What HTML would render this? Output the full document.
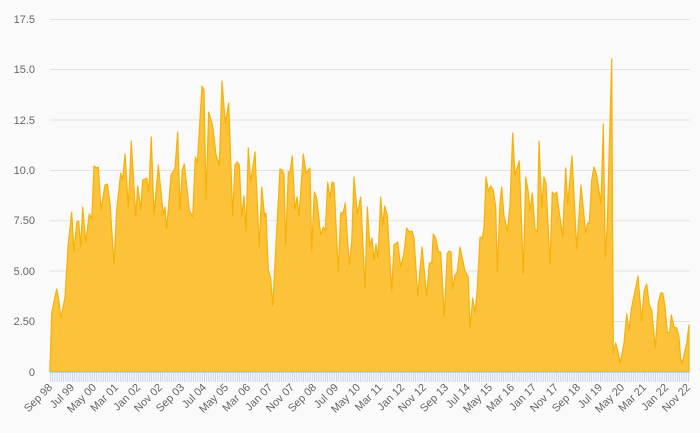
<!DOCTYPE html>
<html><head><meta charset="utf-8"><style>
html,body{margin:0;padding:0;background:#fafafa;}
svg{display:block;font-family:"Liberation Sans",sans-serif;}
</style></head><body>
<svg width="700" height="433" viewBox="0 0 700 433" xmlns="http://www.w3.org/2000/svg">
<rect width="700" height="433" fill="#fafafa"/>
<g stroke="#e3e3e3" stroke-width="1">
<line x1="50" x2="690" y1="19.5" y2="19.5"/>
<line x1="50" x2="690" y1="69.5" y2="69.5"/>
<line x1="50" x2="690" y1="120" y2="120"/>
<line x1="50" x2="690" y1="170.5" y2="170.5"/>
<line x1="50" x2="690" y1="220.7" y2="220.7"/>
<line x1="50" x2="690" y1="271" y2="271"/>
<line x1="50" x2="690" y1="321.5" y2="321.5"/>
</g>
<g fill="#666" font-size="11" text-anchor="end">
<text x="35" y="23">17.5</text>
<text x="35" y="73">15.0</text>
<text x="35" y="124">12.5</text>
<text x="35" y="174">10.0</text>
<text x="35" y="224">7.50</text>
<text x="35" y="275">5.00</text>
<text x="35" y="325">2.50</text>
<text x="35" y="376">0</text>
</g>
<path fill="#fbbf2f" fill-opacity="0.95" stroke="#f6b10a" stroke-width="1.2" stroke-linejoin="round" d="M50,372 L50,367 51.7,313 56.7,289 58,295 61,318 65,297 68,247 71.7,212 74,252 76.7,222 78.7,221 80.7,247 82.7,207 85.7,242 89.3,214 91.7,219 94,166 96.7,168 98.3,167 101,210 105,185 107.3,184 110,203 114,264 116.7,210 120.7,173 122.7,180 125,154 128.3,207 131.3,141 135.7,216 137.7,186 140.7,210 142.7,180 146.7,178 148.7,192 151.3,137 154,215 158.3,165 163.3,215 165,207 166.7,229 171,175 175,168 177.7,132 180,210 182.3,170 184.3,164 189.3,210 192.7,217 195.3,157 197.3,163 202,86 204,90 206,199 208.7,112 212.7,126 216,155 219.3,165 222,81 225.3,123 228.7,103 232.7,216 235,165 237.3,162 239.3,165 241.7,217 244,196 246,231 248.3,148 250.7,182 255,152 259.3,247 261.7,187 264.7,217 266,213 268.3,270 270.7,278 272.7,306 280,169 282.3,170 284,175 285.7,245 288.3,172 290,172 292.3,156 295,210 297,197 299,216 303.3,154 306,173 310,168 311.7,251 314.3,192 316.7,198 320.7,235 323.3,227 325.3,231 327.7,182 330,198 332,182 334,183 338.3,272 340.7,213 343.3,212 345.3,203 347.3,237 349.3,265 351.7,242 354,177 357.3,214 360.7,197 365,288 367.3,207 370,247 372,238 374,260 376,244 378,258 380.7,197 382.7,226 384.7,206 387.3,215 391.7,291 394,245 397.7,242 400.7,267 404,253 406.7,228 409.3,232 412,231 414,238 417.7,296 422,247 426.7,296 429.3,263 431.7,263 433.3,234 435.7,238 438.3,251 440.7,252 444.3,316 447.3,253 449.3,251 451,252 452.7,289 455,275 457.3,272 460,247 465,271 468.3,277 470,328 472.7,298 475,313 477.3,288 480,237 482.3,238 484,228 486,177 488.3,191 490.7,186 493.3,190 495.7,207 497.3,272 500,203 501.7,187 504,216 507.3,231 510,205 512.7,133 515,175 519.3,161 523.3,274 525.7,177 528.3,192 530,211 532.3,193 535,229 537.3,232 539,141 541.7,207 544,177 546,183 550,264 552.3,192 554.3,195 556.7,192 559.3,213 562.7,236 565.7,168 567.7,204 572,156 576.7,249 581,185 585.7,233 587.7,223 589.3,223 591.7,180 594,167 596.7,175 601,204 603.3,124 605.3,257 607.3,223 610,123 611.7,59 613.3,353 615.7,343 618,352 620.3,363 624,343 626.7,314 629,330 631.3,309 638,276 641.7,321 644,292 646.7,284 649.3,305 651.7,310 655.3,348 658.3,303 660.7,293 662.7,293 665,306 667.3,333 669.7,332 671.3,315 674,327 676.7,328 679,337 680.7,359 682.3,363 686.7,343 689,325 L689,372 Z"/>
<defs><pattern id="tk" x="50" y="0" width="2.2" height="10" patternUnits="userSpaceOnUse"><rect width="0.9" height="10" fill="#c4d1ea"/></pattern></defs>
<rect x="50" y="372.5" width="639.5" height="9.5" fill="url(#tk)"/>
<line x1="50" x2="690" y1="372.5" y2="372.5" stroke="#c4d1ea"/>
<g fill="#666" font-size="11" text-anchor="end">
<text transform="translate(53,388) rotate(-45)">Sep 98</text>
<text transform="translate(75,388) rotate(-45)">Jul 99</text>
<text transform="translate(97,388) rotate(-45)">May 00</text>
<text transform="translate(119,388) rotate(-45)">Mar 01</text>
<text transform="translate(141,388) rotate(-45)">Jan 02</text>
<text transform="translate(163,388) rotate(-45)">Nov 02</text>
<text transform="translate(185,388) rotate(-45)">Sep 03</text>
<text transform="translate(207,388) rotate(-45)">Jul 04</text>
<text transform="translate(229,388) rotate(-45)">May 05</text>
<text transform="translate(251,388) rotate(-45)">Mar 06</text>
<text transform="translate(273,388) rotate(-45)">Jan 07</text>
<text transform="translate(295,388) rotate(-45)">Nov 07</text>
<text transform="translate(317,388) rotate(-45)">Sep 08</text>
<text transform="translate(339,388) rotate(-45)">Jul 09</text>
<text transform="translate(361,388) rotate(-45)">May 10</text>
<text transform="translate(383,388) rotate(-45)">Mar 11</text>
<text transform="translate(405,388) rotate(-45)">Jan 12</text>
<text transform="translate(427,388) rotate(-45)">Nov 12</text>
<text transform="translate(449,388) rotate(-45)">Sep 13</text>
<text transform="translate(471,388) rotate(-45)">Jul 14</text>
<text transform="translate(493,388) rotate(-45)">May 15</text>
<text transform="translate(515,388) rotate(-45)">Mar 16</text>
<text transform="translate(537,388) rotate(-45)">Jan 17</text>
<text transform="translate(559,388) rotate(-45)">Nov 17</text>
<text transform="translate(581,388) rotate(-45)">Sep 18</text>
<text transform="translate(603,388) rotate(-45)">Jul 19</text>
<text transform="translate(625,388) rotate(-45)">May 20</text>
<text transform="translate(647,388) rotate(-45)">Mar 21</text>
<text transform="translate(669,388) rotate(-45)">Jan 22</text>
<text transform="translate(691,388) rotate(-45)">Nov 22</text>
</g>
</svg>
</body></html>
